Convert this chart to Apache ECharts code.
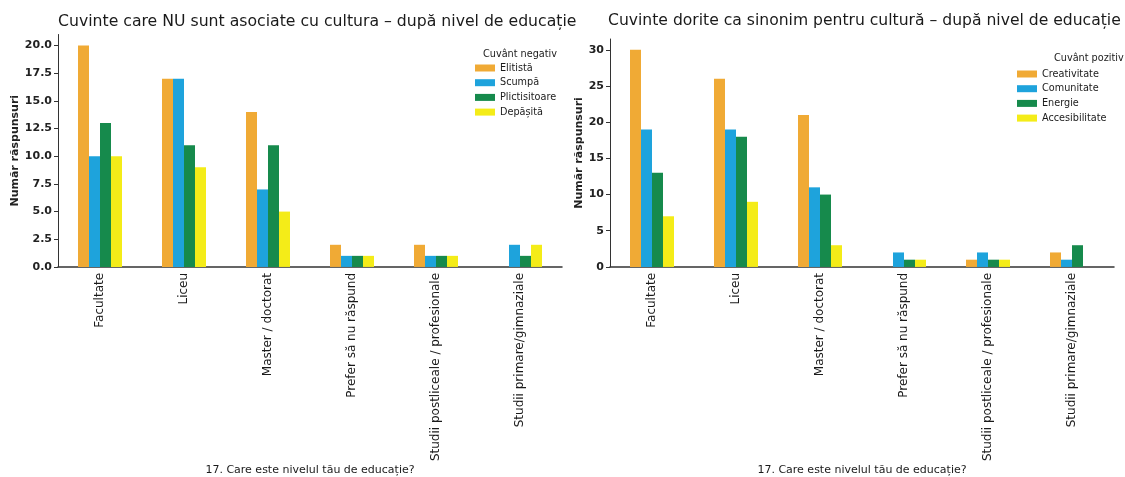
<html>
<head>
<meta charset="utf-8">
<title>Cuvinte - după nivel de educație</title>
<script src="https://cdn.jsdelivr.net/npm/echarts@6/dist/echarts.min.js"></script>
</head>
<body style="margin:0;background:#fff">
	<div id="main" style="width: 1125px; height: 477px;"></div>
	<script type="text/javascript">
		// categorii (nivel de educatie)
		var categorii = ['Facultate', 'Liceu', 'Master / doctorat', 'Prefer să nu răspund', 'Studii postliceale / profesionale', 'Studii primare/gimnaziale'];

		// grafic stanga - cuvinte negative
		var numeNegative = ['Elitistă', 'Scumpă', 'Plictisitoare', 'Depășită'];
		var elitista = [20, 17, 14, 2, 2, 0];
		var scumpa = [10, 17, 7, 1, 1, 2];
		var plictisitoare = [13, 11, 11, 1, 1, 1];
		var depasita = [10, 9, 5, 1, 1, 2];
		var ticksStanga = [0, 2.5, 5, 7.5, 10, 12.5, 15, 17.5, 20];

		// grafic dreapta - cuvinte pozitive
		var numePozitive = ['Creativitate', 'Comunitate', 'Energie', 'Accesibilitate'];
		var creativitate = [30, 26, 21, 0, 1, 2];
		var comunitate = [19, 19, 11, 2, 2, 1];
		var energie = [13, 18, 10, 1, 1, 3];
		var accesibilitate = [7, 9, 3, 1, 1, 0];
		var ticksDreapta = [0, 5, 10, 15, 20, 25, 30];

		var culori = ['#f0aa35', '#1ea3dc', '#168a4c', '#f4ec18'];
		var font = 'DejaVu Sans';

		function axaX(grid) {
			return {
				type: 'category',
				gridIndex: grid,
				data: categorii,
				name: '17. Care este nivelul tău de educație?',
				nameLocation: 'middle',
				nameGap: 198,
				nameTextStyle: { fontFamily: font, fontSize: 11, color: '#1a1a1a' },
				axisLine: { lineStyle: { color: '#333', width: 1.5 } },
				axisTick: { show: false },
				axisLabel: { rotate: 90, interval: 0, fontFamily: font, fontSize: 12, color: '#1a1a1a', margin: 6 }
			};
		}

		function axaY(grid, max, ticks, fmt) {
			return {
				type: 'value',
				gridIndex: grid,
				min: 0,
				max: max,
				name: 'Număr răspunsuri',
				nameLocation: 'middle',
				nameGap: grid === 0 ? 36 : 24,
				nameTextStyle: { fontFamily: font, fontSize: 11, fontWeight: 'bold', color: '#222' },
				splitLine: { show: false },
				axisLine: { show: true, lineStyle: { color: '#333', width: 1 } },
				axisTick: { show: true, length: 4, customValues: ticks, lineStyle: { color: '#333' } },
				axisLabel: { customValues: ticks, fontFamily: font, fontSize: 11, fontWeight: 'bold', color: '#222', margin: 6, formatter: fmt }
			};
		}

		function serie(nume, date, grid, idx) {
			return {
				name: nume,
				type: 'bar',
				xAxisIndex: grid,
				yAxisIndex: grid,
				barWidth: 11,
				barGap: '0%',
				itemStyle: { color: culori[idx] },
				data: date
			};
		}

		function legenda(nume, left, top) {
			return {
				data: nume,
				orient: 'vertical',
				left: left,
				top: top,
				itemWidth: 20,
				itemHeight: 7,
				itemGap: 2.7,
				icon: 'rect',
				textStyle: { fontFamily: font, fontSize: 9.7, color: '#1a1a1a', lineHeight: 12 }
			};
		}

		var myChart = echarts.init(document.getElementById('main'));
		myChart.setOption({
			backgroundColor: '#fff',
			animation: false,
			title: [
				{ text: 'Cuvinte care NU sunt asociate cu cultura – după nivel de educație', left: 53, top: 9,
				  textStyle: { fontFamily: font, fontSize: 15.7, fontWeight: 'normal', color: '#1a1a1a' } },
				{ text: 'Cuvinte dorite ca sinonim pentru cultură – după nivel de educație', left: 603, top: 8,
				  textStyle: { fontFamily: font, fontSize: 15.6, fontWeight: 'normal', color: '#1a1a1a' } },
				{ text: 'Cuvânt negativ', left: 478, top: 44,
				  textStyle: { fontFamily: font, fontSize: 9.7, fontWeight: 'normal', color: '#1a1a1a' } },
				{ text: 'Cuvânt pozitiv', left: 1049, top: 48,
				  textStyle: { fontFamily: font, fontSize: 9.7, fontWeight: 'normal', color: '#1a1a1a' } }
			],
			legend: [
				legenda(numeNegative, 470, 57),
				legenda(numePozitive, 1012, 63)
			],
			grid: [
				{ left: 58, top: 34.5, width: 504, height: 234.5 },
				{ left: 610, top: 39, width: 504, height: 235 }
			],
			xAxis: [axaX(0), axaX(1)],
			yAxis: [
				axaY(0, 21, ticksStanga, function (v) { return v.toFixed(1); }),
				axaY(1, 31.5, ticksDreapta, function (v) { return String(v); })
			],
			series: [
				serie(numeNegative[0], elitista, 0, 0),
				serie(numeNegative[1], scumpa, 0, 1),
				serie(numeNegative[2], plictisitoare, 0, 2),
				serie(numeNegative[3], depasita, 0, 3),
				serie(numePozitive[0], creativitate, 1, 0),
				serie(numePozitive[1], comunitate, 1, 1),
				serie(numePozitive[2], energie, 1, 2),
				serie(numePozitive[3], accesibilitate, 1, 3)
			]
		});
	</script>
</body>
</html>
